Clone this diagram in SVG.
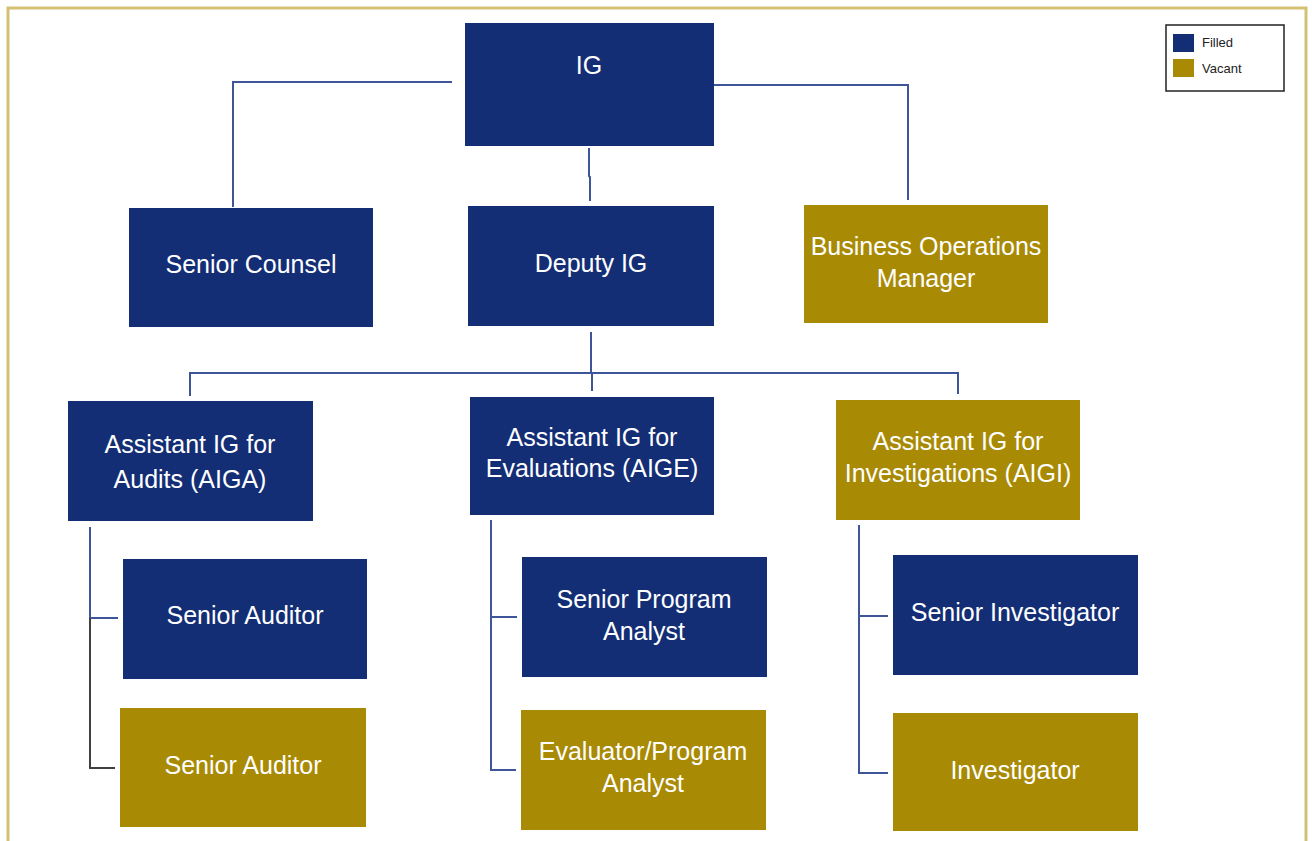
<svg xmlns="http://www.w3.org/2000/svg" width="1312" height="841" viewBox="0 0 1312 841">
<style>
.filled{fill:#132e75}
.vacant{fill:#a88a05}
.t{font-family:"Liberation Sans",Arial,sans-serif;font-size:25px;fill:#ffffff;text-anchor:middle}
.lg{font-family:"Liberation Sans",Arial,sans-serif;font-size:13px;fill:#222222}
.c{fill:none;stroke:#3f5599;stroke-width:2}
.cd{fill:none;stroke:#404040;stroke-width:2}
</style>
<rect x="0" y="0" width="1312" height="841" fill="#ffffff"/>
<rect x="8" y="8" width="1298" height="850" fill="none" stroke="#d4c072" stroke-width="3"/>
<g id="connectors">
<polyline class="c" points="452,82 233,82 233,207"/>
<polyline class="c" points="714,85 908,85 908,200"/>
<polyline class="c" points="589,148 589,176 590,177 590,201"/>
<polyline class="c" points="591,332 591,373"/>
<polyline class="c" points="190,396 190,373 958,373 958,394"/>
<polyline class="c" points="592,373 592,391"/>
<polyline class="c" points="90,527 90,618"/>
<polyline class="c" points="90,618 118,618"/>
<polyline class="cd" points="90,618 90,768 115,768"/>
<polyline class="c" points="491,520 491,770 516,770"/>
<polyline class="c" points="491,617 517,617"/>
<polyline class="c" points="859,525 859,773 888,773"/>
<polyline class="c" points="859,616 888,616"/>
</g>
<g id="ig"><rect class="filled" x="465" y="23" width="249" height="123"/><text class="t" x="589" y="74">IG</text></g>
<g id="senior-counsel"><rect class="filled" x="129" y="208" width="244" height="119"/><text class="t" x="251" y="273">Senior Counsel</text></g>
<g id="deputy-ig"><rect class="filled" x="468" y="206" width="246" height="120"/><text class="t" x="591" y="272">Deputy IG</text></g>
<g id="business-ops"><rect class="vacant" x="804" y="205" width="244" height="118"/><text class="t" x="926" y="255">Business Operations</text><text class="t" x="926" y="287">Manager</text></g>
<g id="aiga"><rect class="filled" x="68" y="401" width="245" height="120"/><text class="t" x="190" y="453">Assistant IG for</text><text class="t" x="190" y="488">Audits (AIGA)</text></g>
<g id="aige"><rect class="filled" x="470" y="397" width="244" height="118"/><text class="t" x="592" y="446">Assistant IG for</text><text class="t" x="592" y="477">Evaluations (AIGE)</text></g>
<g id="aigi"><rect class="vacant" x="836" y="400" width="244" height="120"/><text class="t" x="958" y="450">Assistant IG for</text><text class="t" x="958" y="482">Investigations (AIGI)</text></g>
<g id="senior-auditor-1"><rect class="filled" x="123" y="559" width="244" height="120"/><text class="t" x="245" y="624">Senior Auditor</text></g>
<g id="senior-auditor-2"><rect class="vacant" x="120" y="708" width="246" height="119"/><text class="t" x="243" y="774">Senior Auditor</text></g>
<g id="senior-program-analyst"><rect class="filled" x="522" y="557" width="245" height="120"/><text class="t" x="644" y="608">Senior Program</text><text class="t" x="644" y="640">Analyst</text></g>
<g id="evaluator"><rect class="vacant" x="521" y="710" width="245" height="120"/><text class="t" x="643" y="760">Evaluator/Program</text><text class="t" x="643" y="792">Analyst</text></g>
<g id="senior-investigator"><rect class="filled" x="893" y="555" width="245" height="120"/><text class="t" x="1015" y="621">Senior Investigator</text></g>
<g id="investigator"><rect class="vacant" x="893" y="713" width="245" height="118"/><text class="t" x="1015" y="779">Investigator</text></g>
<g id="legend">
<rect x="1166" y="25" width="118" height="66" fill="#ffffff" stroke="#222222" stroke-width="1.5"/>
<rect class="filled" x="1173" y="34" width="21" height="18"/>
<text class="lg" x="1202" y="47">Filled</text>
<rect class="vacant" x="1173" y="59" width="21" height="18"/>
<text class="lg" x="1202" y="73">Vacant</text>
</g>
</svg>
